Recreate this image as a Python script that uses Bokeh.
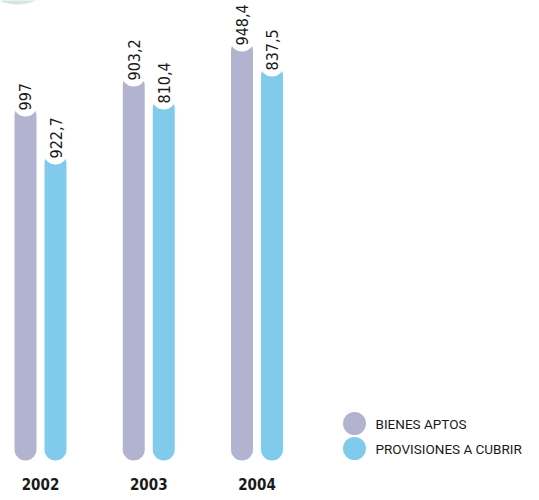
import math
from bokeh.plotting import figure
from bokeh.models import Range1d, ColumnDataSource
from bokeh.core.properties import value
from bokeh.embed import file_html
from bokeh.resources import INLINE

years = ["2002", "2003", "2004"]
bienes_aptos = ["997", "903,2", "948,4"]
provisiones = ["922,7", "810,4", "837,5"]
# drawn bar heights (chart is not drawn to scale)
bienes_height = [356, 386, 421]
provisiones_height = [308, 363, 396]
series_names = ["BIENES APTOS", "PROVISIONES A CUBRIR"]
colors = ["#b2b3d1", "#80cbec"]

FONT = "DejaVu Sans Condensed"

W, H = 539, 500
x0 = -0.2956 - 8 / 108.25
p = figure(width=W, height=H, output_backend="svg", toolbar_location=None,
           x_range=Range1d(x0, x0 + W / 108.25),
           y_range=Range1d(-40, 460), min_border=0)
p.axis.visible = False
p.grid.visible = False
p.outline_line_color = None
p.background_fill_color = "white"

# decorative disc peeking in at the top-left corner
p.scatter(x=[-0.2125], y=[501], size=90, marker="circle",
          fill_color="#d3e5e5", line_color=None)

idx = list(range(len(years)))
off = 0.1386
bw = 0.203

for k, (labels, heights) in enumerate([(bienes_aptos, bienes_height),
                                       (provisiones, provisiones_height)]):
    xs = [i + (-off if k == 0 else off) for i in idx]
    src = ColumnDataSource(dict(x=xs, top=heights, lab=labels,
                                ly=[h - 6 for h in heights]))
    p.vbar(x="x", top="top", bottom=0, width=bw, source=src,
           fill_color=colors[k], line_color=None, border_radius=11)
    p.scatter(x="x", y="top", source=src, size=24, marker="circle",
              fill_color="white", line_color=None)
    p.text(x="x", y="ly", text="lab", source=src, angle=math.pi / 2,
           text_align="left", text_baseline="middle",
           text_font=value(FONT), text_font_size="16px",
           text_color="#1a1a1a")

p.text(x=idx, y=[-23] * 3, text=years, text_align="center",
       text_baseline="middle", text_font=value(FONT),
       text_font_style="bold", text_font_size="15px", text_color="#1a1a1a")

# legend
lx = 2.9007
ly = [37, 12]
p.scatter(x=[lx, lx], y=ly, size=23, marker="circle", fill_color=colors,
          line_color=None)
p.text(x=[3.095, 3.095], y=ly, text=series_names, text_align="left",
       text_baseline="middle", text_font=value("Roboto"),
       text_font_size="13.5px", text_color="#1a1a1a")

open("out.html", "w").write(file_html(p, INLINE))
